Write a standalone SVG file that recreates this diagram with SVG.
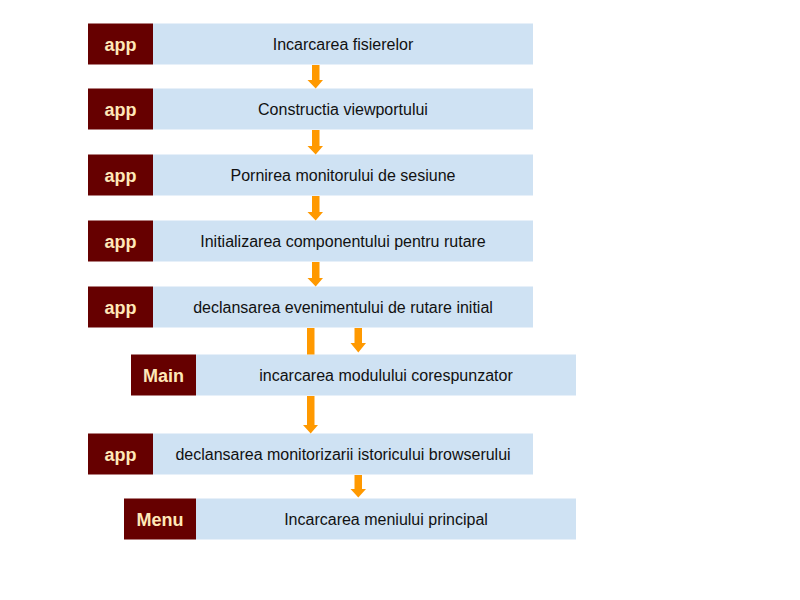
<svg xmlns="http://www.w3.org/2000/svg" width="800" height="600" viewBox="0 0 800 600">
<style>
.tag{fill:#660000}
.bar{fill:#cfe2f3}
.tagt{font-family:"Liberation Sans",Arial,sans-serif;font-weight:bold;font-size:18px;fill:#ffe8b8;text-anchor:middle}
.t{font-family:"Liberation Sans",Arial,sans-serif;font-size:16px;fill:#111111;text-anchor:middle}
.arr{fill:#ff9900}
</style>
<rect width="800" height="600" fill="#ffffff"/>
<g id="n1"><rect class="bar" x="153" y="23.5" width="380" height="41"/><rect class="tag" x="88" y="23.5" width="65" height="41"/><text class="tagt" x="120.5" y="51">app</text><text class="t" x="343" y="50">Incarcarea fisierelor</text></g>
<g id="n2"><rect class="bar" x="153" y="88.5" width="380" height="41"/><rect class="tag" x="88" y="88.5" width="65" height="41"/><text class="tagt" x="120.5" y="116">app</text><text class="t" x="343" y="115">Constructia viewportului</text></g>
<g id="n3"><rect class="bar" x="153" y="154.5" width="380" height="41"/><rect class="tag" x="88" y="154.5" width="65" height="41"/><text class="tagt" x="120.5" y="182">app</text><text class="t" x="343" y="181">Pornirea monitorului de sesiune</text></g>
<g id="n4"><rect class="bar" x="153" y="220.5" width="380" height="41"/><rect class="tag" x="88" y="220.5" width="65" height="41"/><text class="tagt" x="120.5" y="248">app</text><text class="t" x="343" y="247">Initializarea componentului pentru rutare</text></g>
<g id="n5"><rect class="bar" x="153" y="286.5" width="380" height="41"/><rect class="tag" x="88" y="286.5" width="65" height="41"/><text class="tagt" x="120.5" y="314">app</text><text class="t" x="343" y="313">declansarea evenimentului de rutare initial</text></g>
<g id="n6"><rect class="bar" x="196" y="354.5" width="380" height="41"/><rect class="tag" x="131" y="354.5" width="65" height="41"/><text class="tagt" x="163.5" y="382">Main</text><text class="t" x="386" y="381">incarcarea modulului corespunzator</text></g>
<g id="n7"><rect class="bar" x="153" y="433.5" width="380" height="41"/><rect class="tag" x="88" y="433.5" width="65" height="41"/><text class="tagt" x="120.5" y="461">app</text><text class="t" x="343" y="460">declansarea monitorizarii istoricului browserului</text></g>
<g id="n8"><rect class="bar" x="196" y="498.5" width="380" height="41"/><rect class="tag" x="124" y="498.5" width="72" height="41"/><text class="tagt" x="160" y="526">Menu</text><text class="t" x="386" y="525">Incarcarea meniului principal</text></g>
<g id="connectors">
<polygon class="arr" points="312,65 319.5,65 319.5,80 323,80 315.7,88.5 307.5,80 312,80"/>
<polygon class="arr" points="312,130 319.5,130 319.5,146 323,146 315.7,154.5 307.5,146 312,146"/>
<polygon class="arr" points="312,196 319.5,196 319.5,212 323,212 315.7,220.5 307.5,212 312,212"/>
<polygon class="arr" points="312,262 319.5,262 319.5,278 323,278 315.7,286.5 307.5,278 312,278"/>
<rect class="arr" x="307" y="328" width="7.5" height="26.5"/>
<polygon class="arr" points="354.5,328 362,328 362,343 366,343 358.3,352.5 350.5,343 354.5,343"/>
<polygon class="arr" points="307,396 314.5,396 314.5,425 318,425 310.7,433.5 303,425 307,425"/>
<polygon class="arr" points="354.5,475 362,475 362,489 366,489 358.3,497.5 350.5,489 354.5,489"/>
</g>
</svg>
